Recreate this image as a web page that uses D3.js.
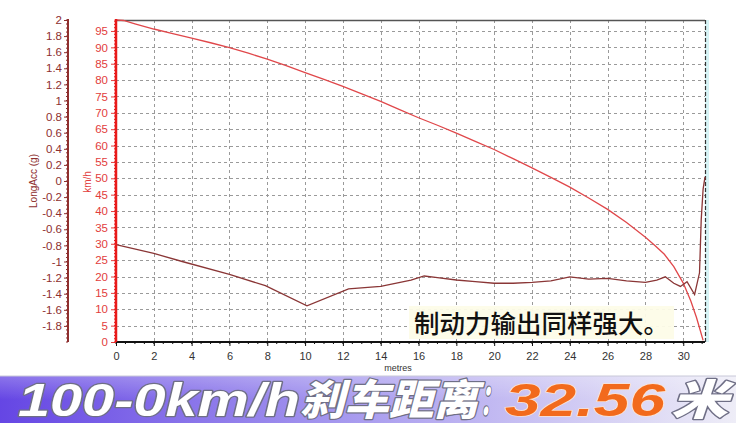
<!DOCTYPE html>
<html><head><meta charset="utf-8">
<script src="https://cdn.jsdelivr.net/npm/d3@7/dist/d3.min.js"></script>
<style>
html,body{margin:0;padding:0;background:#fff;}
svg{display:block;}
</style></head>
<body>
<svg id="chart" width="736" height="423"></svg>
<script>
// ---- data ----
const speedDist = [0, 0.4, 1, 2, 3, 4, 5, 6, 7, 8, 9, 10, 11, 12, 13, 14, 15, 16, 17, 18, 19, 20, 21, 22, 23, 24, 25, 26, 27, 28, 28.5, 29, 29.5, 30, 30.4, 30.7, 30.9, 31.05];
const speedKmh = [98.4, 98.2, 97.2, 95.6, 94.2, 92.8, 91.4, 89.9, 88.2, 86.4, 84.4, 82.3, 80.2, 78.1, 75.8, 73.5, 71.0, 68.5, 66.2, 63.8, 61.3, 58.8, 56.0, 53.2, 50.3, 47.3, 44.0, 40.5, 36.5, 32.0, 29.5, 26.8, 23.0, 18.0, 12.5, 7.5, 3.5, 0.5];
const accDist = [0, 2, 3.5, 6, 7.9, 10.1, 12.3, 14, 15.6, 16.3, 17, 18, 19, 20, 21, 22, 23, 24, 25, 26, 27, 28, 28.6, 29.05, 29.5, 29.85, 30.2, 30.6, 30.86, 30.95, 31.05, 31.15];
const accG = [-0.79, -0.9, -1.0, -1.16, -1.3, -1.55, -1.34, -1.31, -1.23, -1.18, -1.2, -1.23, -1.25, -1.27, -1.27, -1.26, -1.24, -1.19, -1.22, -1.21, -1.24, -1.26, -1.23, -1.19, -1.27, -1.31, -1.25, -1.41, -1.14, -0.48, -0.1, 0.05];
const xTicks = [0, 2, 4, 6, 8, 10, 12, 14, 16, 18, 20, 22, 24, 26, 28, 30];
const kmhTicks = [0, 5, 10, 15, 20, 25, 30, 35, 40, 45, 50, 55, 60, 65, 70, 75, 80, 85, 90, 95];
const accTicks = [2, 1.8, 1.6, 1.4, 1.2, 1, 0.8, 0.6, 0.4, 0.2, 0, -0.2, -0.4, -0.6, -0.8, -1, -1.2, -1.4, -1.6, -1.8];
const annotation = "制动力输出同样强大。";
const bannerParts = ["100-0km/h", "刹车距离", "：", "32.56", "米"];

// ---- layout ----
const svg = d3.select("#chart");
const L = 116, R = 705, T = 20, B = 342;
const x = d3.scaleLinear().domain([0, 31.15]).range([L, R]);
const yK = d3.scaleLinear().domain([0, 98.35]).range([B, T]);
const yA = d3.scaleLinear().domain([-2, 2]).range([B, T]);
const tickFont = "'Liberation Sans', Arial, sans-serif";
const kmhColor = "#e23c3c", accColor = "#8e2f2f";

// right cyan strip
svg.append("rect").attr("x", R).attr("y", T).attr("width", 4).attr("height", B - T).attr("fill", "#d6f3f5");

// grid
const grid = svg.append("g").attr("stroke", "#9a9a9a").attr("stroke-dasharray", "3,3").attr("stroke-width", 1);
grid.selectAll("line.v").data(xTicks.filter(d => d > 0)).join("line")
  .attr("x1", d => Math.round(x(d)) + 0.5).attr("x2", d => Math.round(x(d)) + 0.5)
  .attr("y1", T).attr("y2", B);
grid.selectAll("line.h").data(kmhTicks.filter(d => d > 0)).join("line")
  .attr("x1", L).attr("x2", R)
  .attr("y1", d => Math.round(yK(d)) + 0.5).attr("y2", d => Math.round(yK(d)) + 0.5);

// top border & right dashed border
svg.append("line").attr("x1", L).attr("x2", R).attr("y1", T + 0.5).attr("y2", T + 0.5).attr("stroke", "#555").attr("stroke-width", 1.5);
svg.append("line").attr("x1", R + 0.5).attr("x2", R + 0.5).attr("y1", T).attr("y2", B).attr("stroke", "#333").attr("stroke-dasharray", "4,2").attr("stroke-width", 1.2);

// annotation background + text
svg.append("rect").attr("x", 409).attr("y", 306).attr("width", 265).attr("height", 33).attr("fill", "#fdfce8").attr("opacity", 0.95);
svg.append("text").attr("x", 414).attr("y", 333)
  .attr("font-family", "'Noto Sans CJK SC', sans-serif").attr("font-size", 25).attr("font-weight", 500)
  .attr("fill", "#111").attr("textLength", 255).attr("lengthAdjust", "spacingAndGlyphs")
  .text(annotation);

// lines
const lineS = d3.line().x((d, i) => x(speedDist[i])).y(d => yK(d));
svg.append("path").datum(speedKmh).attr("d", lineS).attr("fill", "none").attr("stroke", "#e0474a").attr("stroke-width", 1.3);
const lineA = d3.line().x((d, i) => x(accDist[i])).y(d => yA(d));
svg.append("path").datum(accG).attr("d", lineA).attr("fill", "none").attr("stroke", "#8a3636").attr("stroke-width", 1.3);

// x axis
const xAxis = svg.append("g").attr("transform", `translate(0,${B})`)
  .call(d3.axisBottom(x).tickValues(xTicks).tickSize(4).tickFormat(d3.format("d")));
xAxis.select(".domain").attr("stroke", "#111").attr("stroke-width", 2).attr("d", `M${L},0H${R}`);
xAxis.selectAll("text").attr("font-family", tickFont).attr("font-size", 11).attr("fill", "#333").attr("dy", "1em");
xAxis.selectAll(".tick line").attr("stroke", "#111");
svg.append("g").attr("stroke", "#111").selectAll("line").data(d3.range(0, 31.1, 0.5)).join("line")
  .attr("x1", d => x(d)).attr("x2", d => x(d)).attr("y1", B).attr("y2", B + 2);
svg.append("text").attr("x", 398).attr("y", 371).attr("text-anchor", "middle")
  .attr("font-family", tickFont).attr("font-size", 9).attr("fill", "#333").text("metres");

// km/h axis
const kAxis = svg.append("g").attr("transform", `translate(${L},0)`)
  .call(d3.axisLeft(yK).tickValues(kmhTicks).tickSize(5).tickFormat(d3.format("d")));
kAxis.select(".domain").attr("stroke", "#e81a1a").attr("stroke-width", 2.5).attr("d", `M0,${T - 1}V${B}`);
kAxis.selectAll(".tick line").attr("stroke", kmhColor);
kAxis.selectAll("text").attr("font-family", tickFont).attr("font-size", 11.5).attr("fill", kmhColor).attr("x", -8);
svg.append("g").attr("stroke", "#e81a1a").selectAll("line").data(d3.range(0, 98.4, 1)).join("line")
  .attr("x1", L - 2).attr("x2", L).attr("y1", d => yK(d)).attr("y2", d => yK(d));
svg.append("text").attr("transform", `translate(91,182) rotate(-90)`).attr("text-anchor", "middle")
  .attr("font-family", tickFont).attr("font-size", 10).attr("fill", kmhColor).text("km/h");

// LongAcc axis
const AX = 68;
const aAxis = svg.append("g").attr("transform", `translate(${AX},0)`)
  .call(d3.axisLeft(yA).tickValues(accTicks).tickSize(4).tickFormat(d => String(Math.round(d * 10) / 10)));
aAxis.select(".domain").attr("stroke", accColor).attr("stroke-width", 2).attr("d", `M0,${T - 1}V${B}`);
aAxis.selectAll(".tick line").attr("stroke", accColor);
aAxis.selectAll("text").attr("font-family", tickFont).attr("font-size", 11.5).attr("fill", accColor).attr("x", -6);
svg.append("g").attr("stroke", accColor).selectAll("line").data(d3.range(-2, 2.001, 0.05)).join("line")
  .attr("x1", AX - 2).attr("x2", AX).attr("y1", d => yA(d)).attr("y2", d => yA(d));
svg.append("text").attr("transform", `translate(37,181) rotate(-90)`).attr("text-anchor", "middle")
  .attr("font-family", tickFont).attr("font-size", 10).attr("fill", accColor).text("LongAcc (g)");

// banner
const defs = svg.append("defs");
const gr = defs.append("linearGradient").attr("id", "bn").attr("x1", "0").attr("x2", "1").attr("y1", "0").attr("y2", "0");
gr.append("stop").attr("offset", "0").attr("stop-color", "#6546e4");
gr.append("stop").attr("offset", "0.45").attr("stop-color", "#a496ee");
gr.append("stop").attr("offset", "1").attr("stop-color", "#eeedf7");
const gv = defs.append("linearGradient").attr("id", "bv").attr("x1", "0").attr("x2", "0").attr("y1", "0").attr("y2", "1");
gv.append("stop").attr("offset", "0").attr("stop-color", "#fff").attr("stop-opacity", 0.25);
gv.append("stop").attr("offset", "0.5").attr("stop-color", "#fff").attr("stop-opacity", 0);
svg.append("rect").attr("x", 0).attr("y", 376).attr("width", 736).attr("height", 47).attr("fill", "url(#bn)");
svg.append("rect").attr("x", 0).attr("y", 376).attr("width", 736).attr("height", 47).attr("fill", "url(#bv)");
svg.append("line").attr("x1", 0).attr("x2", 736).attr("y1", 376).attr("y2", 376).attr("stroke", "#c8c8d8");

const partPos = [[18, 282], [300, 178], [480, 22], [505, 160], [671, 57]];
const partFont = ["'Liberation Sans', Arial, sans-serif", "'Noto Sans CJK SC', sans-serif", "'Noto Sans CJK SC', sans-serif", "'Liberation Sans', Arial, sans-serif", "'Noto Sans CJK SC', sans-serif"];
const partFill = ["#fff", "#fff", "#fff", "#f26a1c", "#fff"];
const partSize = [46, 42, 42, 46, 42];
svg.append("g").selectAll("text").data(bannerParts).join("text")
  .attr("x", (d, i) => partPos[i][0]).attr("y", (d, i) => i === 0 || i === 3 ? 416 : 415)
  .attr("textLength", (d, i) => partPos[i][1]).attr("lengthAdjust", "spacingAndGlyphs")
  .attr("font-family", (d, i) => partFont[i]).attr("font-size", (d, i) => partSize[i])
  .attr("font-weight", 900).attr("font-style", "italic")
  .attr("fill", (d, i) => partFill[i])
  .attr("stroke", (d, i) => i === 3 ? "#fbe3d2" : "#6f6f86").attr("stroke-width", (d, i) => i === 3 ? 1.5 : 2.5)
  .attr("paint-order", "stroke").attr("stroke-linejoin", "round")
  .text(d => d);
</script>
</body></html>
